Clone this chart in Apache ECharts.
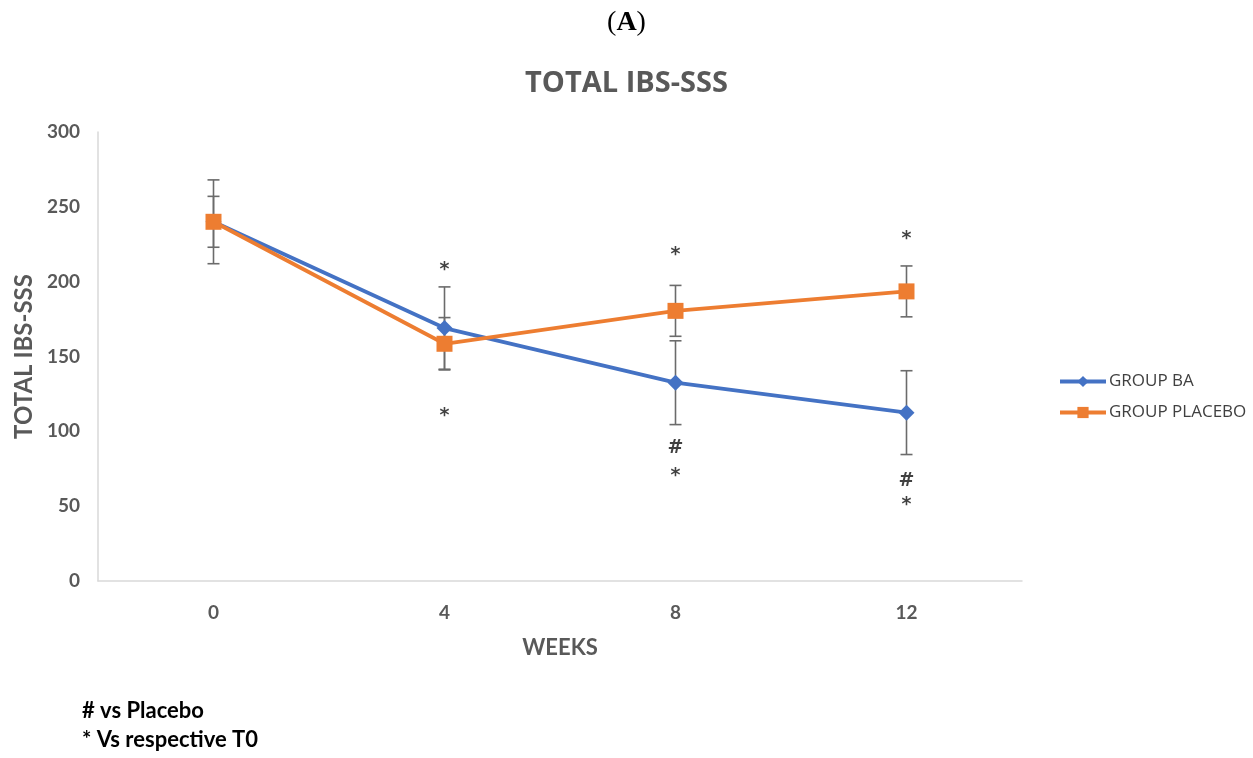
<!DOCTYPE html>
<html>
<head>
<meta charset="utf-8">
<style>
  html, body { margin: 0; padding: 0; background: #fff; }
  #chart { width: 1253px; height: 758px; }
</style>
<script src="https://cdn.jsdelivr.net/npm/echarts@6/dist/echarts.min.js"></script>
</head>
<body>
<div id="chart"></div>
<script>
// Weeks of follow-up
const weeks = ['0', '4', '8', '12'];

// Mean total IBS-SSS score per group
const groupBA = [240, 169, 132.5, 112.5];
const groupPlacebo = [240, 158.5, 180.5, 193.5];

// Error bar half-lengths
const errBA = [28, 27.5, 28, 28];
const errPlacebo = [17, 17.5, 17, 17];

// Y axis ticks
const yTicks = [0, 50, 100, 150, 200, 250, 300];

// Significance marks: [week index, value on the score axis, symbol]
const sigMarks = [
  [1, 208, '*'], [1, 110, '*'],
  [2, 218, '*'], [2, 88.5, '#'], [2, 70, '*'],
  [3, 228.5, '*'], [3, 67, '#'], [3, 51, '*']
];

const BLUE = '#4472C4';
const ORANGE = '#ED7D31';
const AXIS_TEXT = '#595959';

const chart = echarts.init(document.getElementById('chart'), null, { renderer: 'canvas' });

function errorBarSeries(name, means, errs) {
  return {
    type: 'custom',
    name: name + ' error',
    silent: true,
    z: 1,
    data: means.map((m, i) => [i, m - errs[i], m + errs[i]]),
    renderItem: function (params, api) {
      const lo = api.coord([api.value(0), api.value(1)]);
      const hi = api.coord([api.value(0), api.value(2)]);
      const hw = 6;
      const style = { stroke: '#6b6b6b', lineWidth: 1.6 };
      return {
        type: 'group',
        children: [
          { type: 'line', shape: { x1: lo[0], y1: lo[1], x2: hi[0], y2: hi[1] }, style: style },
          { type: 'line', shape: { x1: lo[0] - hw, y1: lo[1], x2: lo[0] + hw, y2: lo[1] }, style: style },
          { type: 'line', shape: { x1: hi[0] - hw, y1: hi[1], x2: hi[0] + hw, y2: hi[1] }, style: style }
        ]
      };
    }
  };
}

const option = {
  backgroundColor: '#ffffff',
  animation: false,
  title: [
    {
      text: '{p|(}{a|A}{p|)}',
      left: 'center',
      top: 4,
      textStyle: {
        fontSize: 28,
        rich: {
          p: { fontFamily: 'Liberation Serif', fontSize: 28, color: '#000', fontWeight: 'normal' },
          a: { fontFamily: 'Liberation Serif', fontSize: 28, color: '#000', fontWeight: 'bold' }
        }
      }
    },
    {
      text: 'TOTAL IBS-SSS',
      left: 'center',
      top: 64,
      textStyle: { fontFamily: 'Open Sans', fontSize: 29, fontWeight: 'bold', color: AXIS_TEXT }
    }
  ],
  legend: {
    orient: 'vertical',
    left: 1053,
    top: 368,
    itemGap: 14,
    itemWidth: 46,
    itemHeight: 14,
    lineStyle: { width: 4 },
    textStyle: { fontFamily: 'Open Sans', fontSize: 17, color: '#404040', padding: [0, 0, 0, -2] },
    data: ['GROUP BA', 'GROUP PLACEBO']
  },
  grid: { left: 98, right: 231, top: 132, bottom: 177 },
  xAxis: {
    type: 'category',
    data: weeks,
    boundaryGap: true,
    name: 'WEEKS',
    nameLocation: 'middle',
    nameGap: 56,
    nameTextStyle: { fontFamily: 'Lato', fontSize: 22, fontWeight: 'bold', color: AXIS_TEXT },
    axisLine: { lineStyle: { color: '#d9d9d9', width: 1.5 } },
    axisTick: { show: false },
    axisLabel: { fontFamily: 'Lato', fontSize: 19, fontWeight: 'bold', color: AXIS_TEXT, margin: 22 }
  },
  yAxis: {
    type: 'value',
    min: yTicks[0],
    max: yTicks[yTicks.length - 1],
    interval: yTicks[1] - yTicks[0],
    name: 'TOTAL IBS-SSS',
    nameLocation: 'middle',
    nameGap: 62,
    nameTextStyle: { fontFamily: 'Lato', fontSize: 24, fontWeight: 'bold', color: AXIS_TEXT },
    axisLine: { show: true, lineStyle: { color: '#d9d9d9', width: 1.5 } },
    axisTick: { show: false },
    splitLine: { show: false },
    axisLabel: { fontFamily: 'Lato', fontSize: 19, fontWeight: 'bold', color: AXIS_TEXT, margin: 18 }
  },
  series: [
    errorBarSeries('GROUP BA', groupBA, errBA),
    errorBarSeries('GROUP PLACEBO', groupPlacebo, errPlacebo),
    {
      name: 'GROUP BA',
      type: 'line',
      z: 3,
      data: groupBA,
      symbol: 'diamond',
      symbolSize: 16,
      lineStyle: { color: BLUE, width: 3.8 },
      itemStyle: { color: BLUE }
    },
    {
      name: 'GROUP PLACEBO',
      type: 'line',
      z: 4,
      data: groupPlacebo,
      symbol: 'rect',
      symbolSize: 16,
      lineStyle: { color: ORANGE, width: 3.8 },
      itemStyle: { color: ORANGE }
    },
    {
      name: 'marks',
      type: 'scatter',
      silent: true,
      z: 5,
      symbolSize: 0,
      data: sigMarks.map(m => ({ value: [m[0], m[1]], label: { formatter: m[2] } })),
      label: {
        show: true,
        position: 'inside',
        fontFamily: 'DejaVu Sans',
        fontWeight: 'bold',
        fontSize: 19,
        color: '#111'
      }
    }
  ],
  graphic: [
    {
      type: 'text',
      left: 82,
      top: 700,
      style: { text: '# vs Placebo', font: 'bold 22px Lato', fill: '#000' }
    },
    {
      type: 'text',
      left: 82,
      top: 729,
      style: { text: '* Vs respective T0', font: 'bold 22px Lato', fill: '#000' }
    }
  ]
};

chart.setOption(option);
</script>
</body>
</html>
